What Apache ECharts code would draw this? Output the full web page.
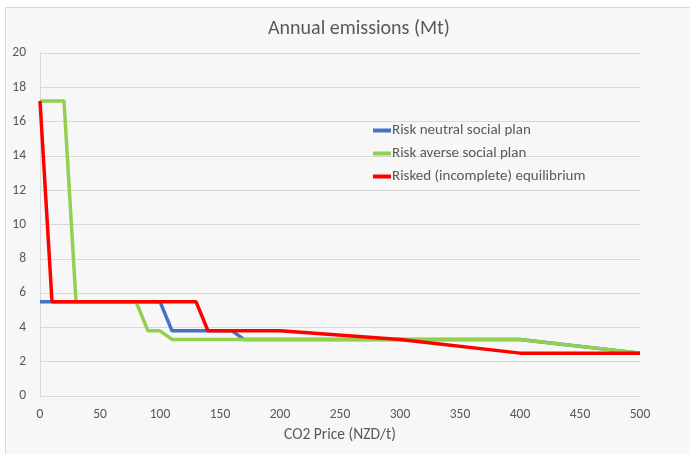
<!DOCTYPE html>
<html><head><meta charset="utf-8">
<script src="https://cdn.jsdelivr.net/npm/echarts@6/dist/echarts.min.js"></script>
<style>
html,body{margin:0;padding:0;background:#fff;}
#frame{position:absolute;left:5px;top:7px;width:700px;height:460px;background:#f7f7f7;border-left:1px solid #d9d9d9;border-top:1px solid #d9d9d9;}
#c{position:absolute;left:0;top:0;width:690px;height:454px;}
</style></head>
<body>
<div id="frame"></div>
<div id="c"></div>
<script>
const seriesNames = ['Risk neutral social plan','Risk averse social plan','Risked (incomplete) equilibrium'];
const neutralX = [0,100,110,160,170,400,500];
const neutralY = [5.5,5.5,3.8,3.8,3.3,3.3,2.5];
const averseX = [0,20,30,80,90,100,110,400,500];
const averseY = [17.2,17.2,5.5,5.5,3.8,3.8,3.3,3.3,2.5];
const equilX = [0,10,130,140,200,300,400,500];
const equilY = [17.2,5.5,5.5,3.8,3.8,3.3,2.5,2.5];
const colors = ['#4472c4','#92d050','#ff0000'];

const pair = (xs, ys) => xs.map((x,i)=>[x, ys[i]]);
const font = 'Calibri, Carlito, "Open Sans", sans-serif';
const chart = echarts.init(document.getElementById('c'));
chart.setOption({
  animation:false,
  backgroundColor:'transparent',
  title:{text:'Annual emissions (Mt)',left:263,top:14,
    textStyle:{fontFamily:font,fontSize:20,fontWeight:'normal',color:'#595959'}},
  legend:{orient:'vertical',left:368,top:118,itemGap:8,itemWidth:18,itemHeight:4,icon:'rect',
    data:seriesNames,
    textStyle:{fontFamily:font,fontSize:15,color:'#595959',padding:[0,0,0,-4]}},
  grid:{left:40,right:50,top:53,bottom:58},
  xAxis:{type:'value',min:0,max:500,interval:50,
    name:'CO2 Price (NZD/t)',nameLocation:'middle',nameGap:31,
    nameTextStyle:{fontFamily:font,fontSize:15.5,color:'#595959'},
    axisLine:{lineStyle:{color:'#d9d9d9'}},axisTick:{show:false},
    axisLabel:{fontFamily:font,fontSize:13.5,color:'#595959',margin:12},
    splitLine:{show:false}},
  yAxis:{type:'value',min:0,max:20,interval:2,
    axisLine:{show:true,lineStyle:{color:'#d9d9d9'}},axisTick:{show:false},
    axisLabel:{fontFamily:font,fontSize:13.5,color:'#595959',margin:14},
    splitLine:{lineStyle:{color:'#d9d9d9'}}},
  series:[
    {name:seriesNames[0],type:'line',data:pair(neutralX,neutralY),symbol:'none',lineStyle:{width:3.5,color:colors[0]},itemStyle:{color:colors[0]}},
    {name:seriesNames[1],type:'line',data:pair(averseX,averseY),symbol:'none',lineStyle:{width:3.5,color:colors[1]},itemStyle:{color:colors[1]}},
    {name:seriesNames[2],type:'line',data:pair(equilX,equilY),symbol:'none',lineStyle:{width:3.5,color:colors[2]},itemStyle:{color:colors[2]}}
  ]
});
</script>
</body></html>
